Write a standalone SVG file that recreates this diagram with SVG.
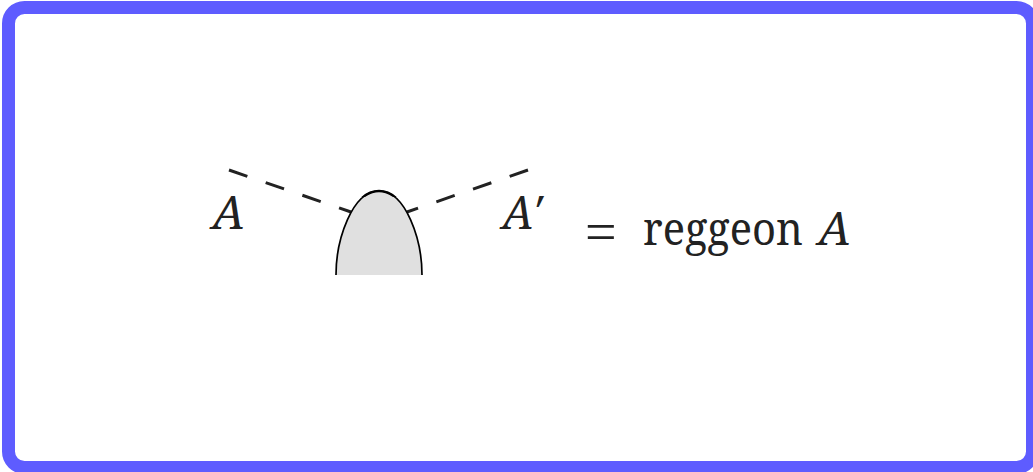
<svg xmlns="http://www.w3.org/2000/svg" width="1033" height="472" viewBox="0 0 1033 472">
<defs><clipPath id="top"><rect x="330" y="185" width="100" height="12"/></clipPath></defs>
<style>
.t{font-family:"Noto Serif","Liberation Serif",serif;font-size:45px;fill:#222}
.e{font-family:"Liberation Serif",serif;font-size:56px;fill:#222}
.i{font-family:"Noto Serif","Liberation Serif",serif;font-style:italic;font-size:45px;fill:#222}
.d{fill:none;stroke:#222;stroke-width:3;stroke-dasharray:19.4 19.4}
.b{fill:none;stroke:#000;stroke-width:1.7}
</style>
<rect width="1033" height="472" fill="#fff"/>
<g id="frame"><rect x="8.5" y="7.5" width="1024" height="460" rx="16" fill="#fff" stroke="#5e5cff" stroke-width="13"/></g>
<g id="connectors">
<path class="d" d="M229 170L351 212"/>
<path class="d" d="M528 170L407 212"/>
</g>
<g id="blob"><path d="M336 275C336 240 352 191 379 191C406 191 422 240 422 275" fill="#e0e0e0"/><path class="b" d="M336 275C336 240 352 191 379 191C406 191 422 240 422 275"/><path d="M336 275C336 240 352 191 379 191C406 191 422 240 422 275" fill="none" stroke="#000" stroke-width="2.3" clip-path="url(#top)"/></g>
<g id="label-a"><text class="i" x="212" y="229" textLength="33" lengthAdjust="spacingAndGlyphs">A</text></g>
<g id="label-a-prime"><text class="i" x="502" y="229" letter-spacing="-2">A′</text></g>
<g id="label-eq"><text class="e" x="585" y="251">=</text><text class="t" x="643" y="245" textLength="160" lengthAdjust="spacingAndGlyphs">reggeon</text><text class="i" x="818" y="245" textLength="33" lengthAdjust="spacingAndGlyphs">A</text></g>
</svg>
